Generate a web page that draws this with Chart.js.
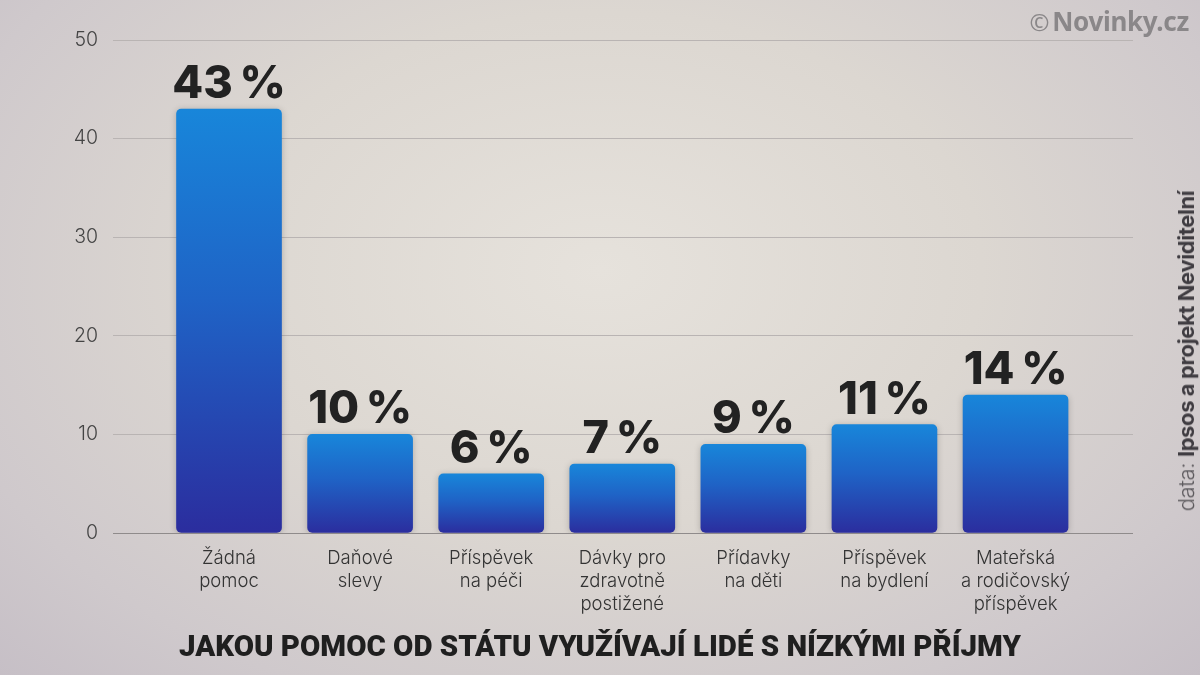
<!DOCTYPE html>
<html lang="cs">
<head>
<meta charset="utf-8">
<script src="https://cdn.jsdelivr.net/npm/chart.js@4.4.1/dist/chart.umd.min.js"></script>
<style>
  html, body { margin: 0; padding: 0; }
  body {
    width: 1200px; height: 675px; overflow: hidden; position: relative;
    background: radial-gradient(ellipse at 50% 40%, #e6e2dc 0%, #dcd7d1 45%, #cfc9cc 80%, #c6bfc6 100%);
    font-family: Inter, "Noto Sans", sans-serif;
  }
  #wrap { position: absolute; left: 0; top: 0; width: 1200px; height: 675px; }
  #logo {
    position: absolute; right: 11px; top: 3px;
    font: 700 26px "Noto Sans", Inter, sans-serif; color: #8a8789; letter-spacing: -0.3px;
  }
  #logo span { font-weight: 400; font-size: 24px; margin-right: 3px; }
  #source {
    position: absolute; left: 1186px; top: 351px;
    transform: translate(-50%, -50%) rotate(-90deg);
    white-space: nowrap; font: 300 22px Inter, sans-serif; color: #5d5a5e; letter-spacing: -0.4px;
  }
  #source b { font-weight: 700; color: #3f3c41; }
  #title {
    position: absolute; left: 600px; top: 628px; white-space: nowrap;
    font: 900 30px Roboto, Inter, sans-serif;
    color: #1f1f1f; transform-origin: 0 0;
  }
</style>
</head>
<body>
<div id="wrap"><canvas id="chart" width="1200" height="675"></canvas></div>
<div id="logo"><span>©</span>Novinky.cz</div>
<div id="source">data: <b>Ipsos a projekt Neviditelní</b></div>
<div id="title">JAKOU POMOC OD STÁTU VYUŽÍVAJÍ LIDÉ S NÍZKÝMI PŘÍJMY</div>
<script>
// Data
const categories = [
  ['Žádná', 'pomoc'],
  ['Daňové', 'slevy'],
  ['Příspěvek', 'na péči'],
  ['Dávky pro', 'zdravotně', 'postižené'],
  ['Přídavky', 'na děti'],
  ['Příspěvek', 'na bydlení'],
  ['Mateřská', 'a rodičovský', 'příspěvek']
];
const shares = [43, 10, 6, 7, 9, 11, 14];
const yTicks = [0, 10, 20, 30, 40, 50];

// Title: fit to the width of the reference heading
const title = document.getElementById('title');
const tw = title.getBoundingClientRect().width;
title.style.transform = `scaleX(${842 / tw})`;
title.style.left = (600 - 842 / 2) + 'px';

// Blue to indigo gradient for each bar
function barFill(c) {
  const chart = c.chart;
  const area = chart.chartArea;
  if (!area || c.parsed === undefined) return '#1f5fc0';
  const top = chart.scales.y.getPixelForValue(c.parsed.y);
  const g = chart.ctx.createLinearGradient(0, top, 0, area.bottom);
  g.addColorStop(0, '#1886da');
  g.addColorStop(0.45, '#1f63c6');
  g.addColorStop(1, '#2b2d9e');
  return g;
}

// Value labels above bars
const valueLabels = {
  id: 'valueLabels',
  afterDatasetsDraw(chart) {
    const ctx = chart.ctx;
    const meta = chart.getDatasetMeta(0);
    ctx.save();
    ctx.font = '800 45px Inter, sans-serif';
    ctx.fillStyle = '#222';
    ctx.textAlign = 'center';
    ctx.textBaseline = 'alphabetic';
    meta.data.forEach((bar, i) => {
      ctx.fillText(shares[i] + '\u2009%', bar.x, bar.y - 11);
    });
    ctx.restore();
  }
};

// Soft shadow under bars
const barShadow = {
  id: 'barShadow',
  beforeDatasetsDraw(chart) {
    const ctx = chart.ctx;
    ctx.save();
    ctx.shadowColor = 'rgba(0,0,0,0.22)';
    ctx.shadowBlur = 6;
    ctx.shadowOffsetY = 1;
  },
  afterDatasetsDraw(chart) {
    chart.ctx.restore();
  }
};

new Chart(document.getElementById('chart'), {
  type: 'bar',
  data: {
    datasets: [{
      data: shares.map((v, i) => ({ x: i, y: v })),
      backgroundColor: barFill,
      borderRadius: 5,
      borderSkipped: false,
      barThickness: 105
    }]
  },
  options: {
    responsive: false,
    animation: false,
    devicePixelRatio: 1,
    layout: { padding: { left: 0, right: 67, top: 40, bottom: 0 } },
    plugins: { legend: { display: false }, tooltip: { enabled: false } },
    scales: {
      x: {
        type: 'linear',
        min: -0.885,
        max: 6.896,
        offset: false,
        afterBuildTicks(scale) { scale.ticks = categories.map((c, i) => ({ value: i })); },
        grid: { display: false, drawTicks: false },
        border: { display: false },
        ticks: {
          color: '#333',
          padding: 14,
          font: { family: 'Inter, sans-serif', size: 18.5, weight: '300', lineHeight: 1.24 },
          maxRotation: 0,
          autoSkip: false,
          callback: v => categories[v]
        },
        afterFit(scale) { scale.height = 142; }
      },
      y: {
        min: 0,
        max: 50,
        afterBuildTicks(scale) { scale.ticks = yTicks.map(v => ({ value: v })); },
        grid: {
          drawTicks: false,
          color: c => c.tick && c.tick.value === 0 ? '#8f8b8b' : '#b9b4b3',
          lineWidth: 1
        },
        border: { display: false },
        ticks: {
          color: '#444',
          padding: 15,
          font: { family: 'Inter, sans-serif', size: 19.5, weight: '300' }
        },
        afterFit(scale) { scale.width = 113; }
      }
    }
  },
  plugins: [barShadow, valueLabels]
});
</script>
</body>
</html>
